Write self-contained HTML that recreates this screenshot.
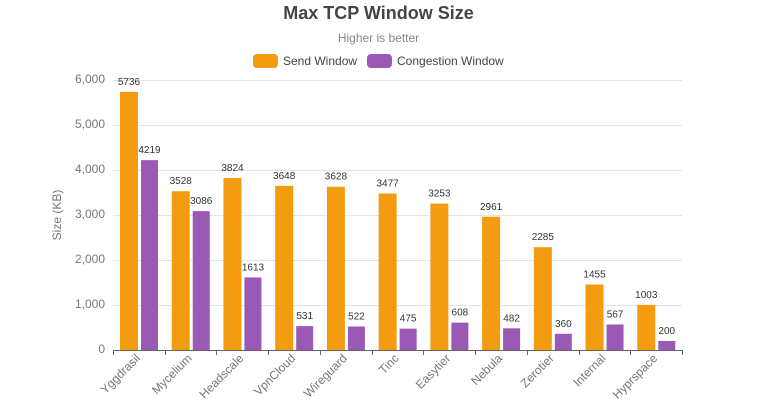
<!DOCTYPE html>
<html><head><meta charset="utf-8"><style>
body{margin:0;background:#fff;}
svg{display:block;font-family:"Liberation Sans",sans-serif;}
</style></head><body>
<svg width="757" height="400" viewBox="0 0 757 400">
<text x="378.5" y="19" text-anchor="middle" font-size="18" font-weight="bold" fill="#444">Max TCP Window Size</text>
<text x="378.5" y="42" text-anchor="middle" font-size="12" fill="#888">Higher is better</text>
<rect x="253" y="54" width="25" height="14" rx="4" fill="#f39c12"/>
<text x="283" y="65" font-size="12" fill="#444">Send Window</text>
<rect x="367" y="54" width="25" height="14" rx="4" fill="#9b59b6"/>
<text x="397" y="65" font-size="12" fill="#444">Congestion Window</text>
<g stroke="#e0e4ee" stroke-width="1">
<line x1="113" x2="682" y1="80.5" y2="80.5"/>
<line x1="113" x2="682" y1="125.5" y2="125.5"/>
<line x1="113" x2="682" y1="170.5" y2="170.5"/>
<line x1="113" x2="682" y1="215.5" y2="215.5"/>
<line x1="113" x2="682" y1="260.5" y2="260.5"/>
<line x1="113" x2="682" y1="305.5" y2="305.5"/>
</g>
<g font-size="12" fill="#777" text-anchor="end">
<text x="105" y="83">6,000</text><text x="105" y="128">5,000</text><text x="105" y="173">4,000</text>
<text x="105" y="218">3,000</text><text x="105" y="263">2,000</text><text x="105" y="308">1,000</text><text x="105" y="353">0</text>
</g>
<text transform="translate(61,215) rotate(-90)" text-anchor="middle" font-size="12" fill="#777">Size (KB)</text>
<g id="bars"></g>
<line x1="113" x2="682" y1="350.5" y2="350.5" stroke="#666"/>
<g id="ticks" stroke="#666"></g>
<g id="xl" font-size="12" fill="#777" text-anchor="end"></g>
<script>
var n=["Yggdrasil","Mycelium","Headscale","VpnCloud","Wireguard","Tinc","Easytier","Nebula","Zerotier","Internal","Hyprspace"];
var s=[5736,3528,3824,3648,3628,3477,3253,2961,2285,1455,1003];
var c=[4219,3086,1613,531,522,475,608,482,360,567,200];
var w=569/11,ns="http://www.w3.org/2000/svg",b=document.getElementById("bars"),t=document.getElementById("ticks"),xl=document.getElementById("xl");
function el(p,tag,a,tx){var e=document.createElementNS(ns,tag);for(var k in a)e.setAttribute(k,a[k]);if(tx)e.textContent=tx;p.appendChild(e);}
for(var i=0;i<=11;i++){var x=Math.round(113+i*w)+0.5;el(t,"line",{x1:x,x2:x,y1:350,y2:355});}
for(var i=0;i<11;i++){var x0=113+i*w;
var hs=s[i]*0.045,hc=c[i]*0.045;
el(b,"rect",{x:x0+7,y:350-hs,width:18,height:hs,fill:"#f39c12"});
el(b,"rect",{x:x0+28,y:350-hc,width:17,height:hc,fill:"#9b59b6"});
el(b,"text",{x:x0+16,y:343-hs,"text-anchor":"middle","font-size":"10",fill:"#333"},s[i]);
el(b,"text",{x:x0+36.5,y:343-hc,"text-anchor":"middle","font-size":"10",fill:"#333"},c[i]);
var cx=x0+w/2+2;
el(xl,"text",{transform:"translate("+cx+",359) rotate(-45)"},n[i]);}
</script>
</svg>
</body></html>
